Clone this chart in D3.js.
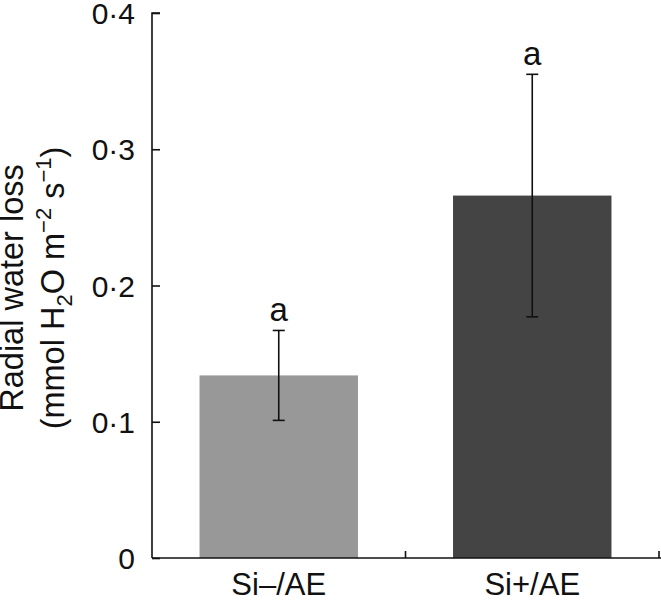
<!DOCTYPE html>
<html><head><meta charset="utf-8">
<script src="https://cdn.jsdelivr.net/npm/d3@7"></script>
<style>body{margin:0;background:#fff}svg{display:block}text{font-family:"Liberation Sans",Arial,sans-serif;fill:#111}</style>
</head><body>
<svg id="c" width="661" height="602"></svg>
<script>
const categories = ["Si\u2013/AE", "Si+/AE"];
const values = [0.134, 0.266];
const errors = [0.033, 0.089];
const letters = ["a", "a"];
const colors = ["#989898", "#444444"];
const yTicks = [0, 0.1, 0.2, 0.3, 0.4];
const yTickLabels = ["0", "0\u00b71", "0\u00b72", "0\u00b73", "0\u00b74"];

const svg = d3.select("#c");
const m = {left:152, right:659, top:13, bottom:558};
const x = d3.scaleBand().domain(categories).range([m.left, m.right]).paddingInner(0.375).paddingOuter(0.1875);
const xb = d3.scaleBand().domain(categories).range([m.left, m.right]);
const y = d3.scaleLinear().domain([0, 0.4]).range([m.bottom, m.top]);

// bars
svg.selectAll("rect.bar").data(values).join("rect")
  .attr("x", (d,i)=>x(categories[i])).attr("width", x.bandwidth())
  .attr("y", d=>y(d)).attr("height", d=>y(0)-y(d)).attr("fill",(d,i)=>colors[i]);

// error bars
const eg = svg.append("g").attr("stroke","#111").attr("stroke-width",1.6);
values.forEach((v,i)=>{
  const cx = x(categories[i]) + x.bandwidth()/2;
  eg.append("line").attr("x1",cx).attr("x2",cx).attr("y1",y(v+errors[i])).attr("y2",y(v-errors[i]));
  eg.append("line").attr("x1",cx-6).attr("x2",cx+6).attr("y1",y(v+errors[i])).attr("y2",y(v+errors[i]));
  eg.append("line").attr("x1",cx-6).attr("x2",cx+6).attr("y1",y(v-errors[i])).attr("y2",y(v-errors[i]));
  svg.append("text").attr("x",cx).attr("y",y(v+errors[i])-9).attr("text-anchor","middle")
    .attr("font-size",33).text(letters[i]);
});

// y axis
const yAxis = d3.axisLeft(y).tickValues(yTicks).tickSize(-8).tickPadding(17)
  .tickFormat((d,i)=>yTickLabels[i]);
const ya = svg.append("g").attr("transform",`translate(${m.left},0)`).call(yAxis);
ya.select(".domain").attr("d",`M${8},${m.top}H0V${m.bottom}`).attr("stroke","#111").attr("stroke-width",1.6);
ya.selectAll(".tick line").attr("stroke","#111").attr("stroke-width",1.6);
ya.selectAll(".tick text").attr("font-size",30).attr("fill","#111").attr("font-family","Liberation Sans, Arial, sans-serif").attr("dy","0.35em");

// x axis
const xa = svg.append("g").attr("transform",`translate(0,${m.bottom})`);
xa.append("line").attr("x1",m.left).attr("x2",m.right+2).attr("y1",0).attr("y2",0).attr("stroke","#111").attr("stroke-width",1.6);
xb.domain().forEach(c=>{
  const bx = xb(c)+xb.bandwidth();
  xa.append("line").attr("x1",bx).attr("x2",bx).attr("y1",0).attr("y2",-7).attr("stroke","#111").attr("stroke-width",1.6);
  xa.append("text").attr("x",x(c)+x.bandwidth()/2).attr("y",37).attr("text-anchor","middle").attr("font-size",31).text(c);
});

// y title
const t = svg.append("text").attr("transform","translate(23,288) rotate(-90)").attr("text-anchor","middle").attr("font-size",32.5);
t.append("tspan").attr("x",0).attr("dy",0).text("Radial water loss");
const t2 = svg.append("text").attr("transform","translate(64,288) rotate(-90)").attr("text-anchor","middle").attr("font-size",32.5);
t2.append("tspan").text("(mmol H");
t2.append("tspan").attr("font-size",22).attr("dy",8).text("2");
t2.append("tspan").attr("dy",-8).text("O m");
t2.append("tspan").attr("font-size",22).attr("dy",-13).text("\u22122");
t2.append("tspan").attr("dy",13).text(" s");
t2.append("tspan").attr("font-size",22).attr("dy",-13).text("\u22121");
t2.append("tspan").attr("dy",13).text(")");
</script>
</body></html>
